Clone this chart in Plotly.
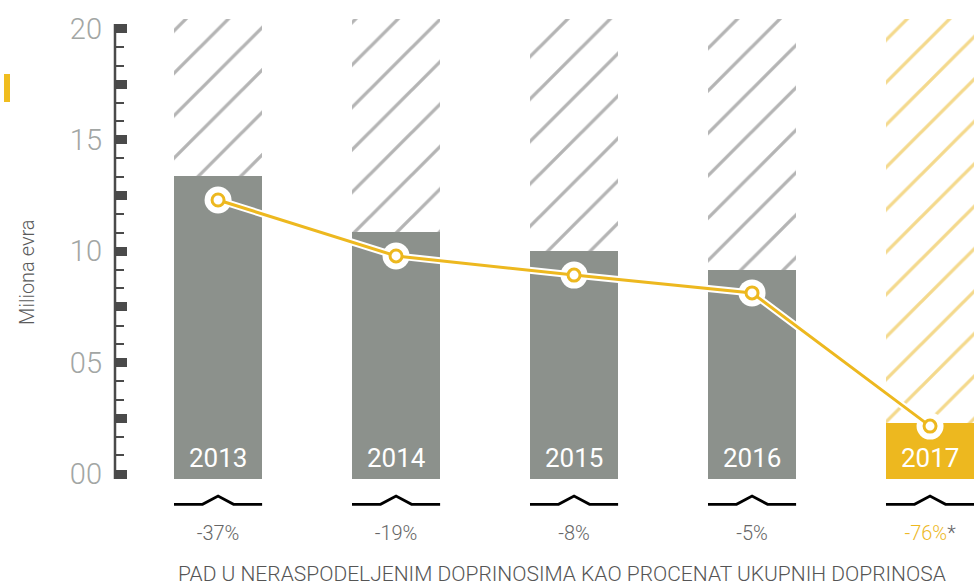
import plotly.graph_objects as go

# ---------------- data ----------------
years = ["2013", "2014", "2015", "2016", "2017"]
undistributed = [13.38, 10.86, 10.01, 9.16, 2.29]      # solid bars (miliona evra)
total_ref = [20.43, 20.43, 20.43, 20.43, 20.43]         # hatched background bars
line_values = [12.30, 9.79, 8.93, 8.13, 2.15]           # yellow line
pct_labels = ["-37%", "-19%", "-8%", "-5%", "-76%"]
y_tick_vals = [0, 2.5, 5, 7.5, 10, 12.5, 15, 17.5, 20]
y_tick_text = ["00", "", "05", "", "10", "", "15", "", "20"]

GRAY_BAR = "#8c918c"
YELLOW = "#EDB81F"
HATCH_GRAY = "#b4b4b4"
HATCH_YELLOW = "#f4d98c"
AXIS_DARK = "#4a4a4a"
FONT = "Roboto"

Y_MIN, Y_MAX = -0.224, 21.055
X_MIN, X_MAX = -0.579, 4.247
BAR_W = 0.495

xs = list(range(len(years)))
last = len(years) - 1

fig = go.Figure()

# hatched background bars
fig.add_trace(go.Bar(
    x=xs, y=[t - Y_MIN for t in total_ref], base=Y_MIN, width=BAR_W,
    marker=dict(
        color="white",
        line=dict(width=0),
        pattern=dict(
            shape="/",
            size=30,
            solidity=0.11,
            fgopacity=1,
            fgcolor=[HATCH_YELLOW if i == last else HATCH_GRAY for i in xs],
            bgcolor="white",
        ),
    ),
    hoverinfo="skip", showlegend=False,
))

# solid bars
fig.add_trace(go.Bar(
    x=xs, y=[v - Y_MIN for v in undistributed], base=Y_MIN, width=BAR_W,
    marker=dict(color=[YELLOW if i == last else GRAY_BAR for i in xs], line=dict(width=0)),
    customdata=undistributed, hovertemplate="%{customdata}<extra></extra>",
    showlegend=False,
))

# white halo for line and markers
fig.add_trace(go.Scatter(
    x=xs, y=line_values, mode="lines+markers",
    line=dict(color="white", width=7),
    marker=dict(size=27, color="white", line=dict(width=0)),
    hoverinfo="skip", showlegend=False,
))
# yellow line with ring markers
fig.add_trace(go.Scatter(
    x=xs, y=line_values, mode="lines+markers",
    line=dict(color=YELLOW, width=3),
    marker=dict(size=12, color="white", line=dict(color=YELLOW, width=3)),
    showlegend=False,
))

annotations = []
# year labels inside bars
for i, yr in enumerate(years):
    annotations.append(dict(
        x=i, y=0, xref="x", yref="y", text=yr, showarrow=False,
        yanchor="middle", yshift=16,
        font=dict(family=FONT, size=26, color="white"),
    ))
# y-axis title
annotations.append(dict(
    x=-0.1024, y=0.437, xref="paper", yref="paper", text="Miliona evra",
    textangle=-90, showarrow=False, xanchor="center", yanchor="middle",
    font=dict(family=FONT, size=20, color="#5a5a5a", weight=300),
))
# bottom title
annotations.append(dict(
    x=0.52, y=(479 - 574) / 474, xref="paper", yref="paper",
    text="PAD U NERASPODELJENIM DOPRINOSIMA KAO PROCENAT UKUPNIH DOPRINOSA",
    showarrow=False, xanchor="center", yanchor="middle",
    font=dict(family=FONT, size=21, color="#555555", weight=300),
))

shapes = []
# y axis line
shapes.append(dict(type="line", xref="paper", yref="paper", x0=0, x1=0,
                   y0=0, y1=(479 - 24) / 474, line=dict(color=AXIS_DARK, width=2.5)))
# small yellow marker on the left
shapes.append(dict(type="rect", xref="paper", yref="paper",
                   x0=(4 - 115) / 859, x1=(10 - 115) / 859,
                   y0=(479 - 102) / 474, y1=(479 - 74) / 474,
                   fillcolor="#F0BD1F", line=dict(width=0)))
# chevron marks under each bar
flat_y = (479 - 504.3) / 474
peak_y = (479 - 496.0) / 474
hw = BAR_W / 2
sw = 0.087
for i in xs:
    path = (f"M {i - hw},{flat_y} L {i - sw},{flat_y} L {i},{peak_y} "
            f"L {i + sw},{flat_y} L {i + hw},{flat_y}")
    shapes.append(dict(type="path", xref="x", yref="paper", path=path,
                       line=dict(color="black", width=2.8)))

tick_text_x = [p if i != last else f'<span style="color:{YELLOW}">{p}</span>*'
               for i, p in enumerate(pct_labels)]

minor_vals = [k * 2.5 / 3 for k in range(25) if k % 3 != 0]

fig.update_layout(
    width=974, height=587,
    margin=dict(l=115, r=0, t=5, b=108),
    paper_bgcolor="white", plot_bgcolor="white",
    barmode="overlay", bargap=0,
    font=dict(family=FONT),
    annotations=annotations, shapes=shapes,
    xaxis=dict(
        range=[X_MIN, X_MAX], tickmode="array", tickvals=xs, ticktext=tick_text_x,
        showgrid=False, zeroline=False, showline=False, ticks="",
        ticklabelstandoff=40, automargin=False,
        tickfont=dict(family=FONT, size=20, color="#666666", weight=300),
    ),
    yaxis=dict(
        range=[Y_MIN, Y_MAX], tickmode="array", tickvals=y_tick_vals, ticktext=y_tick_text,
        showgrid=False, zeroline=False, showline=False, automargin=False,
        ticks="inside", ticklen=12, tickwidth=9, tickcolor=AXIS_DARK,
        ticklabelstandoff=12,
        tickfont=dict(family=FONT, size=29, color="#a2a6a4", weight=300),
        minor=dict(tickmode="array", tickvals=minor_vals, ticks="inside",
                   ticklen=9, tickwidth=2, tickcolor=AXIS_DARK, showgrid=False),
    ),
)

fig.write_html(
    "out.html",
    config={"displayModeBar": False},
    post_script="document.body.style.margin='0';document.body.style.overflow='hidden';",
)
